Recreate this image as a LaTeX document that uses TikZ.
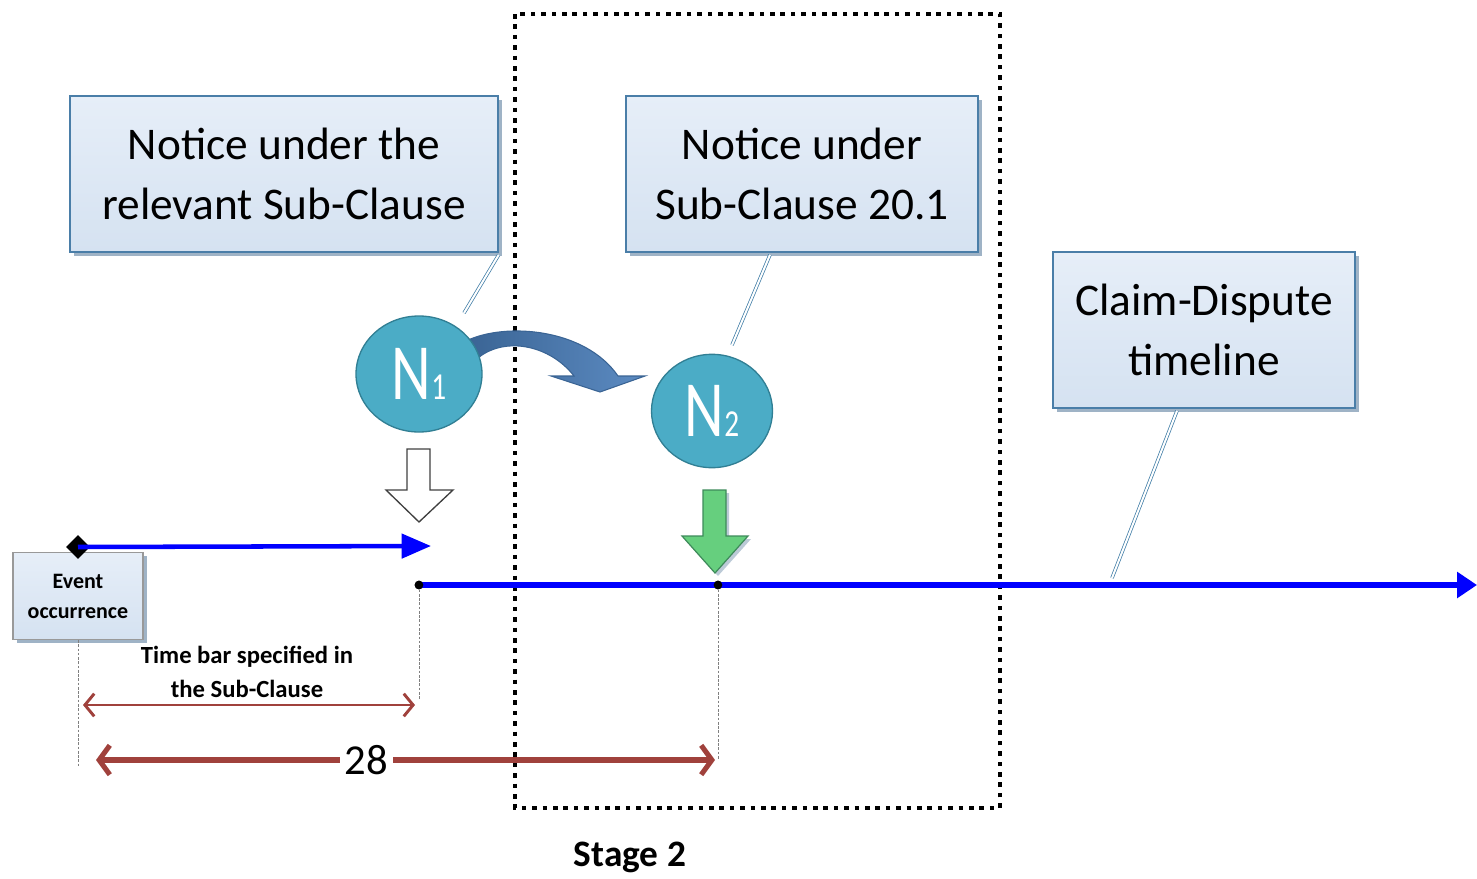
\documentclass[tikz,border=0pt]{standalone}
\usepackage{fontspec}
\setmainfont{Carlito}
\usetikzlibrary{arrows.meta,shapes.geometric,shadows,calc}
\definecolor{boxtop}{HTML}{E6EEF8}
\definecolor{boxfill}{HTML}{D5E2F1}
\definecolor{boxline}{HTML}{4A7EA8}
\definecolor{boxshadow}{HTML}{9FB3C6}
\definecolor{calloutc}{HTML}{3F7CA6}
\definecolor{ovalfill}{HTML}{4BACC6}
\definecolor{ovalline}{HTML}{317F94}
\definecolor{timeblue}{HTML}{0000FF}
\definecolor{dimbrown}{HTML}{A0413C}
\definecolor{bendfill}{HTML}{4A7EBB}
\definecolor{bendline}{HTML}{3A6494}
\definecolor{greenfill}{HTML}{66CF7E}
\definecolor{greenline}{HTML}{3E8A5A}
\begin{document}
\begin{tikzpicture}[x=0.75pt,y=-0.75pt,
  notebox/.style={draw=boxline, line width=1.1pt, top color=boxtop, bottom color=boxfill,
    align=center, inner sep=0pt, font=\fontsize{34}{45}\selectfont,
    drop shadow={shadow xshift=2.8pt, shadow yshift=-2.8pt, fill=boxshadow, opacity=1}},
  eventbox/.style={draw=gray!80, line width=1pt, top color=boxtop, bottom color=boxfill,
    align=center, inner sep=0pt, font=\bfseries\fontsize{16.5}{22.5}\selectfont,
    drop shadow={shadow xshift=2.8pt, shadow yshift=-2.8pt, fill=boxshadow, opacity=1}},
  notice/.style={ellipse, draw=ovalline, line width=1pt, fill=ovalfill, text=white, inner sep=0pt},
  callout/.style={draw=calloutc, double=white, double distance=1.5pt, line width=0.55pt},
  timeline/.style={draw=timeblue, line width=4.2pt},
  guide/.style={draw=gray, line width=0.5pt, dash pattern=on 2pt off 1.2pt},
  dimthin/.style={draw=dimbrown, line width=2.2pt, {Straight Barb[length=7pt,width=17pt]}-{Straight Barb[length=7pt,width=17pt]}},
  dimthick/.style={draw=dimbrown, line width=3.8pt, {Straight Barb[length=8pt,width=22pt]}-{Straight Barb[length=8pt,width=22pt]}},
  stageframe/.style={draw=black, line width=3pt, dash pattern=on 3.4pt off 4.4pt},
  tick/.style={circle, fill=black, inner sep=0pt, minimum size=6.5pt}
]
\useasboundingbox (0,0) rectangle (1477,878);

% stage frame
\draw[stageframe] (515,14) rectangle (1000,808);
\node[font=\bfseries\fontsize{28}{30}\selectfont] (stage) at (630,857) {Stage 2};

% callout boxes
\node[notebox, minimum width=321pt, minimum height=117pt] (b1) at (284,174)
  {Notice under the\\relevant Sub-Clause};
\node[notebox, minimum width=264pt, minimum height=117pt] (b2) at (802,174)
  {Notice under\\Sub-Clause 20.1};
\node[notebox, minimum width=226.5pt, minimum height=117pt] (b3) at (1204,330)
  {Claim-Dispute\\timeline};

% callout pointers
\coordinate (p1) at (464,313);
\coordinate (p2) at (732,345);
\coordinate (p3) at (1112,578);
\draw[callout] ($(b1.south east)+(0,2)$) -- (p1);
\draw[callout] ($(b2.south)+(-32,2)$) -- (p2);
\draw[callout] ($(b3.south)+(-27,2)$) -- (p3);

% bent arrow from N1 to N2
\draw[bendline, line width=0.8pt, left color=bendline, right color=bendfill!90!white]
  (466,341) .. controls (505,322) and (585,328) .. (618,376)
  -- (645,376) -- (600,392) -- (551,376) -- (574,376)
  .. controls (550,345) and (505,336) .. (478,358) -- cycle;

% notices
\node[notice, minimum width=94.5pt, minimum height=87pt] (n1) at (419,374)
  {\scalebox{1}[1.3]{\fontsize{46}{46}\selectfont N\fontsize{22}{22}\selectfont 1}};
\node[notice, minimum width=90.75pt, minimum height=85pt] (n2) at (712,411)
  {\scalebox{1}[1.3]{\fontsize{46}{46}\selectfont N\fontsize{22}{22}\selectfont 2}};

% hollow down arrow under N1
\draw[draw=black!75, line width=1pt, fill=white]
  (407,449) -- (430,449) -- (430,490) -- (453,490) -- (419,522)
  -- (386,490) -- (407,490) -- cycle;

% green down arrow under N2
\fill[boxshadow!70] ($(703,490)+(3,3)$) -- ($(726,490)+(3,3)$) -- ($(726,536)+(3,3)$)
  -- ($(748,536)+(3,3)$) -- ($(715,573)+(3,3)$) -- ($(682,536)+(3,3)$) -- ($(703,536)+(3,3)$) -- cycle;
\draw[draw=greenline, line width=0.9pt, fill=greenfill]
  (703,490) -- (726,490) -- (726,536) -- (748,536) -- (715,573)
  -- (682,536) -- (703,536) -- cycle;

% event occurrence and the time bar
\node[eventbox, minimum width=97.5pt, minimum height=65pt] (ev) at (78,596)
  {Event\\occurrence};
\node[diamond, fill=black, inner sep=0pt, minimum size=18pt] (evd) at (78,547) {};
\coordinate (barend) at (431,546);
\draw[timeline, line width=3.4pt, -{Triangle[length=22pt,width=18pt]}] (evd.center) -- (barend);

% main timeline
\node[tick] (t0) at (419,585) {};
\node[tick] (t1) at (718,585) {};
\coordinate (tend) at (1477,585);
\draw[timeline, -{Triangle[length=15pt,width=19pt]}] (t0.center) -- (tend);
\node[tick] at (t0) {};
\node[tick] at (t1) {};

% guide lines
\coordinate (g0) at (78,766);
\coordinate (g1) at (419,700);
\coordinate (g2) at (718,760);
\draw[guide] (ev.south) -- (g0);
\draw[guide] (t0.south) -- (g1);
\draw[guide] (t1.south) -- (g2);

% dimensions
\node[font=\bfseries\fontsize{18.5}{25}\selectfont, align=center] (tb) at (247,672)
  {Time bar specified in\\the Sub-Clause};
\coordinate (d1l) at (83,705);
\coordinate (d1r) at (415,705);
\draw[dimthin] (d1l) -- (d1r);
\coordinate (d2l) at (96,760);
\coordinate (d2r) at (715,760);
\draw[dimthick] (d2l) -- node[pos=0.437, fill=white, inner xsep=4pt, inner ysep=1pt,
  font=\fontsize{32}{34}\selectfont] (n28) {28} (d2r);
\end{tikzpicture}
\end{document}
